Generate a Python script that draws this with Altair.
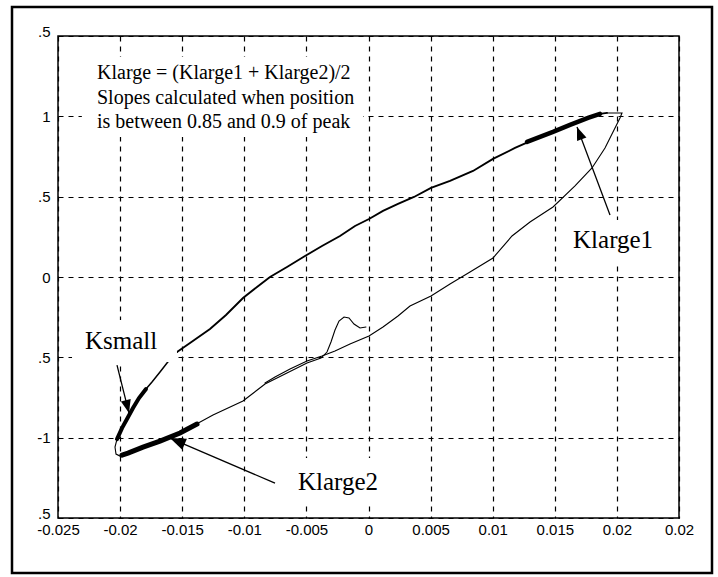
import altair as alt
import pandas as pd

# ---- loop data (position vs force) ----
# start transient (bump) and lower branch down to the left corner
seg1_x = [-0.000201, -0.000684, -0.001168, -0.00157, -0.001973, -0.002375, -0.002697,
          -0.00302, -0.003341, -0.003825, -0.004952, -0.006562, -0.008333, -0.010105,
          -0.01252, -0.015177, -0.016787, -0.018156, -0.019364, -0.020008, -0.02033,
          -0.020411, -0.02025]
seg1_y = [-0.3113, -0.3176, -0.2927, -0.2553, -0.2491, -0.274, -0.33, -0.4047, -0.467,
          -0.5044, -0.5355, -0.5978, -0.6663, -0.7721, -0.8593, -0.9714, -1.0212, -1.0585,
          -1.0959, -1.1146, -1.1021, -1.0585, -1.0087]
# steep rise (Ksmall)
seg2_x = [-0.02025, -0.019847, -0.019444, -0.018961, -0.018478, -0.017915, -0.017432,
          -0.016787, -0.016224, -0.015741, -0.015419]
seg2_y = [-1.0087, -0.9402, -0.8842, -0.8157, -0.7534, -0.6974, -0.6538, -0.5915, -0.5355,
          -0.4919, -0.467]
# upper branch
seg3_x = [-0.015419, -0.014372, -0.012762, -0.011473, -0.010105, -0.008978, -0.007931,
          -0.006562, -0.005113, -0.003744, -0.002295, -0.001087, 0.00004, 0.001167,
          0.002375, 0.003663, 0.005032, 0.006562, 0.008414, 0.010024, 0.011795, 0.013808,
          0.014855, 0.016224, 0.017673, 0.018639, 0.019203]
seg3_y = [-0.467, -0.411, -0.3238, -0.2366, -0.1308, -0.0623, 0.0, 0.0623, 0.1308, 0.193,
          0.2553, 0.3176, 0.3611, 0.411, 0.4545, 0.4981, 0.5542, 0.5978, 0.66, 0.7348,
          0.8032, 0.8717, 0.9029, 0.9465, 0.99, 1.015, 1.0212]
# top turn and lower branch back down
seg4_x = [0.019203, 0.02041, 0.020249, 0.019766, 0.019042, 0.017995, 0.016626, 0.014855,
          0.013003, 0.011554, 0.010024, 0.008172, 0.006562, 0.005032, 0.003341, 0.002375,
          0.001167, 0.00004, -0.00149, -0.002697, -0.003744, -0.004952, -0.00632,
          -0.007528, -0.008333]
seg4_y = [1.0212, 1.0212, 0.99, 0.9153, 0.8032, 0.6787, 0.5666, 0.4359, 0.3425, 0.2553,
          0.1183, 0.0311, -0.0436, -0.1183, -0.1806, -0.2428, -0.3113, -0.3674, -0.4172,
          -0.4608, -0.4919, -0.523, -0.5729, -0.6227, -0.66]

# thick slope regions
klarge1_x = [0.012762, 0.013808, 0.014855, 0.016224, 0.017673, 0.018639]
klarge1_y = [0.8406, 0.8717, 0.9029, 0.9465, 0.99, 1.015]
klarge2_x = [-0.019847, -0.019364, -0.018156, -0.016787, -0.015177, -0.013808]
klarge2_y = [-1.1084, -1.0959, -1.0585, -1.0212, -0.9714, -0.9153]
ksmall_x = [-0.02025, -0.019847, -0.019444, -0.018961, -0.018478, -0.017915]
ksmall_y = [-1.0087, -0.9402, -0.8842, -0.8157, -0.7534, -0.6974]

# annotation labels
note_lines = ["Klarge = (Klarge1 + Klarge2)/2",
              "Slopes calculated when position",
              "is between 0.85 and 0.9 of peak"]
note_x = [-0.02186, -0.02186, -0.02186]
note_y = [1.270, 1.1146, 0.965]
label_text = ["Ksmall", "Klarge2", "Klarge1"]
label_x = [-0.022826, -0.005675, 0.01647]
label_y = [-0.3985, -1.2765, 0.2304]

# white boxes behind annotations
box_x1 = [-0.02308, -0.02387, -0.00632, 0.01598]
box_x2 = [-0.000441, -0.01542, 0.002538, 0.02412]
box_y1 = [1.370, -0.268, -1.127, 0.355]
box_y2 = [0.872, -0.529, -1.420, 0.0934]

# arrows
arrow_tail_x = [-0.02025, -0.007528, 0.019444]
arrow_tail_y = [-0.548, -1.2827, 0.3861]
arrow_tip_x = [-0.019283, -0.015982, 0.016787]
arrow_tip_y = [-0.8468, -1.0025, 0.934]
arrow_angle = [166, 293, 339]
arrow_size = [700, 1000, 700]

# ticks
x_ticks = [-0.025, -0.02, -0.015, -0.01, -0.005, 0, 0.005, 0.01, 0.015, 0.02, 0.025]
x_labels = ["-0.025", "-0.02", "-0.015", "-0.01", "-0.005", "0", "0.005", "0.01",
            "0.015", "0.02", "0.02"]
y_ticks = [1.5, 1, 0.5, 0, -0.5, -1, -1.5]
y_labels = [".5", "1", ".5", "0", ".5", "-1", ".5"]

def label_expr(ticks, labels):
    parts = [f"datum.value == {t} ? '{l}'" for t, l in zip(ticks, labels)]
    return " : ".join(parts) + " : ''"

rows = []
i = 0
for seg, (xs, ys, w) in enumerate([(seg1_x, seg1_y, 1.1), (seg2_x, seg2_y, 1.5),
                                    (seg3_x, seg3_y, 1.9), (seg4_x, seg4_y, 1.1),
                                    (klarge1_x, klarge1_y, 4.5), (klarge2_x, klarge2_y, 5),
                                    (ksmall_x, ksmall_y, 4)]):
    for x, y in zip(xs, ys):
        rows.append({"x": x, "y": y, "seg": seg, "w": w, "i": i})
        i += 1
curve = pd.DataFrame(rows)

xs = alt.Scale(domain=[-0.025, 0.025], nice=False, zero=False)
ys = alt.Scale(domain=[-1.5, 1.5], nice=False, zero=False)

lab_font = "Liberation Sans Narrow, Liberation Sans, sans-serif"
xaxis = alt.Axis(values=x_ticks, labelExpr=label_expr(x_ticks, x_labels), title=None,
                 grid=True, gridDash=[5, 5], gridColor="black", gridWidth=1.2,
                 gridOpacity=1, domain=False, ticks=False, labelFont=lab_font,
                 labelFontSize=15, labelColor="black", labelPadding=4,
                 labelFlush=False, labelOverlap=False)
yaxis = alt.Axis(values=y_ticks, labelExpr=label_expr(y_ticks, y_labels), title=None,
                 grid=True, gridDash=[5, 5], gridColor="black", gridWidth=1.2,
                 gridOpacity=1, domain=False, ticks=False, labelFont=lab_font,
                 labelFontSize=15, labelColor="black", labelPadding=8,
                 labelBaseline={"condition": {"test": "abs(datum.value) == 1.5",
                                              "value": "alphabetic"},
                                "value": "middle"},
                 labelFlush=False, labelOverlap=False)

lines = alt.Chart(curve).mark_line(color="black", strokeCap="round").encode(
    x=alt.X("x:Q", scale=xs, axis=xaxis),
    y=alt.Y("y:Q", scale=ys, axis=yaxis),
    detail="seg:N",
    order="i:Q",
    strokeWidth=alt.StrokeWidth("w:Q", scale=None),
)

boxes = alt.Chart(pd.DataFrame({"x1": box_x1, "x2": box_x2, "y1": box_y1, "y2": box_y2})
                  ).mark_rect(color="white").encode(
    x=alt.X("x1:Q", scale=xs), x2="x2:Q",
    y=alt.Y("y1:Q", scale=ys), y2="y2:Q")

arr = pd.DataFrame({"tx": arrow_tail_x, "ty": arrow_tail_y, "hx": arrow_tip_x,
                    "hy": arrow_tip_y, "ang": arrow_angle, "sz": arrow_size})
shafts = alt.Chart(arr).mark_rule(color="black", strokeWidth=1.3).encode(
    x=alt.X("tx:Q", scale=xs), y=alt.Y("ty:Q", scale=ys), x2="hx:Q", y2="hy:Q")
heads = alt.Chart(arr).mark_point(shape="M0,0 L0.38,1 L-0.38,1 Z", filled=True,
                                  color="black", opacity=1, strokeWidth=0).encode(
    x=alt.X("hx:Q", scale=xs), y=alt.Y("hy:Q", scale=ys),
    angle=alt.Angle("ang:Q", scale=None), size=alt.Size("sz:Q", scale=None))

notes = alt.Chart(pd.DataFrame({"t": note_lines, "x": note_x, "y": note_y})).mark_text(
    font="Liberation Serif", fontSize=20, align="left", baseline="middle", color="black"
).encode(x=alt.X("x:Q", scale=xs), y=alt.Y("y:Q", scale=ys), text="t:N")

labels = alt.Chart(pd.DataFrame({"t": label_text, "x": label_x, "y": label_y})).mark_text(
    font="Liberation Serif", fontSize=25, align="left", baseline="middle", color="black"
).encode(x=alt.X("x:Q", scale=xs), y=alt.Y("y:Q", scale=ys), text="t:N")

border = alt.Chart(pd.DataFrame({"a": [0]})).mark_rect(
    fill=None, stroke="black", strokeWidth=2.5).encode(
    x=alt.value(-46), x2=alt.value(654), y=alt.value(-29), y2=alt.value(537))

chart = alt.layer(lines, boxes, shafts, heads, notes, labels, border).properties(
    width=621, height=482,
    autosize=alt.AutoSizeParams(type="none"),
    padding={"left": 58, "top": 36, "right": 39, "bottom": 59},
    background="white",
).configure_view(stroke="black", strokeWidth=1.5)

chart.save("out.html", embed_options={"renderer": "svg", "actions": False})
